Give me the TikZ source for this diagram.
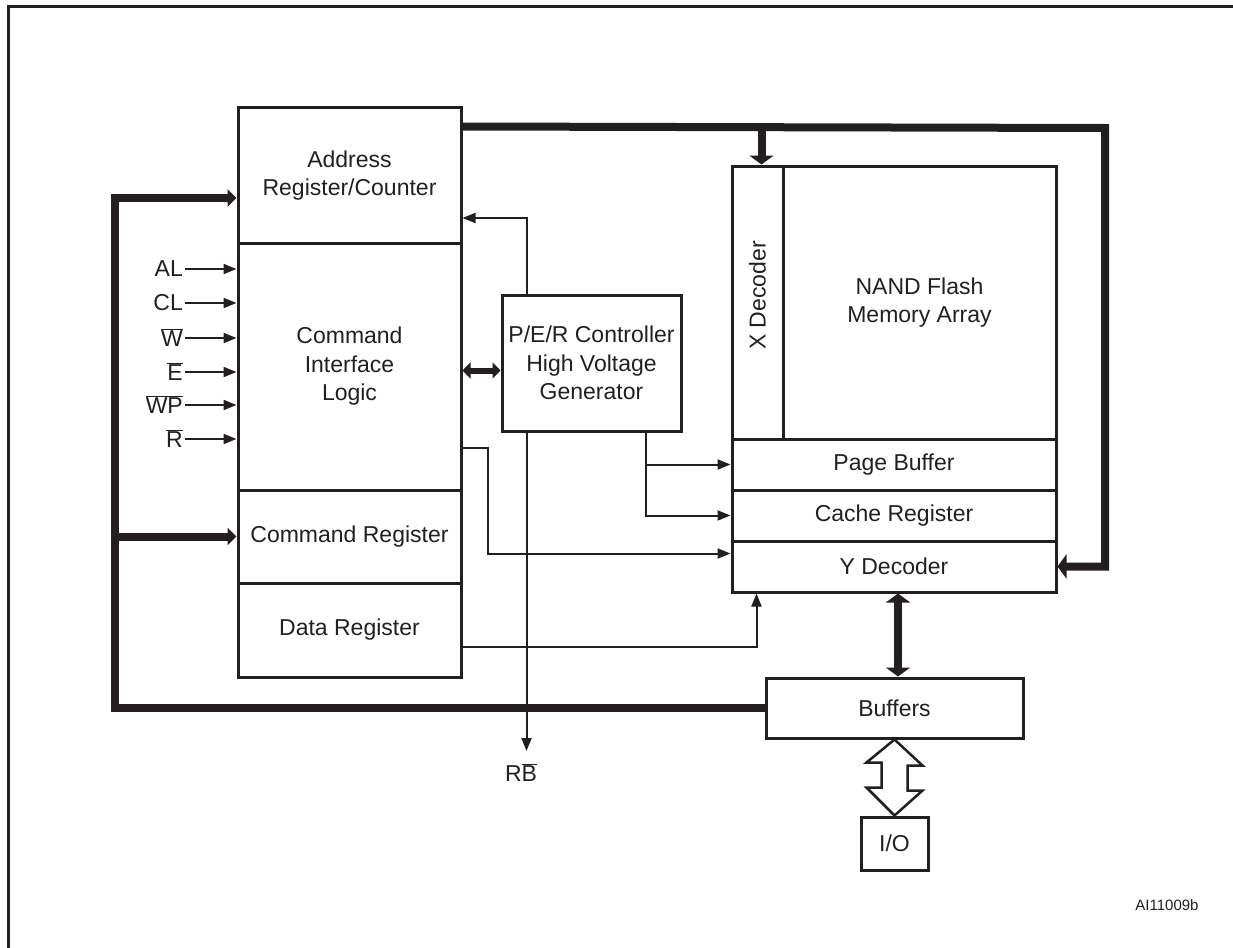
\documentclass[tikz,border=0pt]{standalone}
\usepackage{fontspec}
\setmainfont{Liberation Sans}
\usetikzlibrary{arrows.meta,calc}
\definecolor{ink}{RGB}{35,31,32}
\begin{document}
\begin{tikzpicture}[x=1pt,y=-1pt,
  every node/.style={font=\fontsize{23}{28.5}\selectfont, text=ink},
  box/.style={draw=ink, line width=3pt, rectangle, inner sep=0pt, align=center},
  lbl/.style={inner sep=2pt},
  conn/.style={draw=ink, line width=2pt},
  bus/.style={draw=ink, line width=8pt},
  mbus/.style={draw=ink, line width=6pt},
  thintip/.tip={Triangle[length=13pt,width=10pt]},
  bustip/.tip={Triangle[length=9pt,width=17pt]},
  bigtip/.tip={Triangle[length=9pt,width=24pt]},
  midtip/.tip={Triangle[length=8pt,width=16pt]}
]
\useasboundingbox (0,0) rectangle (1233,947);
% outer frame (partial)
\draw[ink, line width=3pt] (1240,7) -- (8,7) -- (8,955);

% left blocks
\node[box, minimum width=223, minimum height=135] (addr) at (349.5,175.5) {Address\\Register/Counter};
\node[box, minimum width=223, minimum height=247] (cil) at (349.5,366.5) {Command\\Interface\\Logic};
\node[box, minimum width=223, minimum height=93] (cmdreg) at (349.5,536.5) {Command Register};
\node[box, minimum width=223, minimum height=94] (datareg) at (349.5,630) {Data Register};

% controller
\node[box, minimum width=179, minimum height=136] (per) at (591.5,363) {P/E/R Controller\\High Voltage\\Generator};

% memory
\node[box, minimum width=51, minimum height=273] (xdec) at (757.5,302.5) {};
\node[rotate=90] (xdeclbl) at ($(xdec.center)+(0,-7)$) {X Decoder};
\node[box, minimum width=273, minimum height=273] (arr) at (919.5,302.5) {NAND Flash\\Memory Array};
\node[box, minimum width=324, minimum height=51] (pb) at (894,464.5) {Page Buffer};
\node[box, minimum width=324, minimum height=51] (cache) at (894,515.5) {Cache Register};
\node[box, minimum width=324, minimum height=51] (ydec) at (894,566.5) {Y Decoder};

\node[box, minimum width=257, minimum height=60] (buf) at (894.5,708) {Buffers};
\node[box, minimum width=67, minimum height=53] (io) at (894.5,843.5) {I/O};

% control inputs
\node[lbl, anchor=east] (al) at (185,269) {AL};
\node[lbl, anchor=east] (cl) at (185,303) {CL};
\node[lbl, anchor=east] (w) at (185,338) {$\overline{\mbox{W}}$};
\node[lbl, anchor=east] (e) at (185,372) {$\overline{\mbox{E}}$};
\node[lbl, anchor=east] (wp) at (185,405) {$\overline{\mbox{WP}}$};
\node[lbl, anchor=east] (r) at (185,439) {$\overline{\mbox{R}}$};
\foreach \s in {al,cl,w,e,wp,r}{
  \draw[conn, -thintip] (\s.east) -- (\s.east -| cil.west);
}

% top bus
\coordinate (tl0) at ($(addr.north east)+(0,20)$);
\coordinate (tr) at (1105,128);
\draw[bus, -bigtip] (tl0) -- (tr) |- (ydec.east);
\coordinate (xd) at ($(xdec.north)+(4,0)$);
\draw[bus, -bigtip] (xd |- tr) -- (xd);

% left bus
\coordinate (bl) at (115,708);
\coordinate (lt) at (115,198);
\draw[bus, -bustip] (buf.west) -- (bl) -- (lt) -- (lt -| addr.west);
\draw[bus, -bustip] (lt |- cmdreg.west) -- (cmdreg.west);

% CIL <-> PER
\coordinate (d1) at ($(cil.east)+(0,4)$);
\draw[mbus, midtip-midtip] (d1) -- (d1 -| per.west);

% PER -> address, RB
\coordinate (p1) at ($(per.north west)+(26,0)$);
\draw[conn, -thintip] (p1) |- ($(addr.east)+(0,42.5)$);
\node[anchor=north, inner xsep=0pt, inner ysep=12pt] (rb) at (521,751) {R$\overline{\mbox{B}}$};
\draw[conn, -thintip] (p1 |- per.south) -- (p1 |- rb.north);

% PER -> page buffer, cache
\coordinate (p3) at ($(per.south west)+(145,0)$);
\draw[conn, -thintip] (p3) |- (cache.west);
\draw[conn, -thintip] (p3 |- pb.west) -- (pb.west);

% CIL -> Y decoder
\draw[conn, -thintip] ($(cil.east)+(0,81.5)$) -- ++(25,0) |- ($(ydec.west)+(0,-13)$);
% data register -> Y decoder
\draw[conn, -thintip] ($(datareg.east)+(0,17)$) -| ($(ydec.south west)+(26,0)$);

% Y decoder <-> buffers
\coordinate (yb) at ($(ydec.south)+(4,0)$);
\draw[bus, bigtip-bigtip] (yb) -- (yb |- buf.north);

% hollow arrow buffers <-> I/O
\draw[ink, line width=2.5pt, fill=white, line join=miter]
  (buf.south) -- ++(28,26) -- ++(-15,0) -- ++(0,25) -- ++(15,0) -- (io.north)
  -- ++(-28,-28) -- ++(15,0) -- ++(0,-25) -- ++(-15,0) -- cycle;

\node[font=\fontsize{15}{18}\selectfont] (id) at (1167,905) {AI11009b};
\end{tikzpicture}
\end{document}
